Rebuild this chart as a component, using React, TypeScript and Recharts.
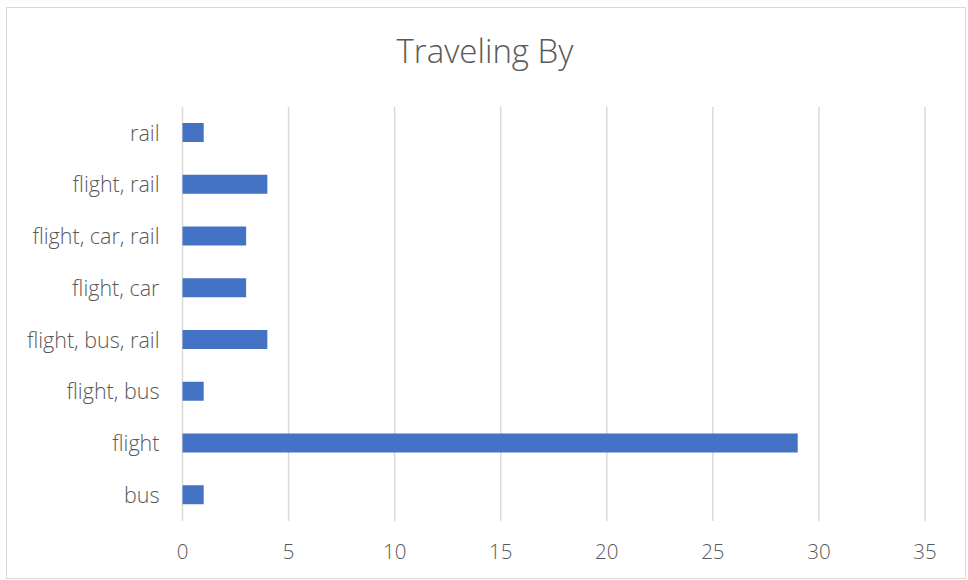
import React from 'react';
import { BarChart, Bar, XAxis, YAxis, CartesianGrid } from 'recharts';

// categories bottom-to-top, as in the spreadsheet
const categories = ['bus', 'flight', 'flight, bus', 'flight, bus, rail', 'flight, car', 'flight, car, rail', 'flight, rail', 'rail'];
const counts = [1, 29, 1, 4, 3, 3, 4, 1];
const xTicks = [0, 5, 10, 15, 20, 25, 30, 35];

const data = categories.map((name, i) => ({ name, value: counts[i] }));

const FONT = '"Open Sans", "Segoe UI", sans-serif';
const TEXT = '#595959';

export default function App() {
  return (
    <div style={{ position: 'absolute', left: 0, top: 0, width: 968, height: 580, background: '#fff', fontFamily: FONT }}>
      {/* chart border */}
      <div style={{ position: 'absolute', left: 6, top: 7, width: 958, height: 570, border: '1px solid #d9d9d9' }} />
      <div style={{ position: 'absolute', left: 0, top: 29, width: 970, textAlign: 'center', fontSize: 33, fontWeight: 300, color: TEXT, lineHeight: '44px' }}>
        Traveling By
      </div>
      <div style={{ position: 'absolute', left: 0, top: 0 }}>
        <BarChart width={968} height={580} data={data} layout="vertical" margin={{ top: 107, right: 43, bottom: 19, left: 0 }} barCategoryGap={0}>
          <CartesianGrid horizontal={false} stroke="#d9d9d9" strokeWidth={1.5} />
          <XAxis
            type="number"
            domain={[0, 35]}
            ticks={xTicks}
            axisLine={false}
            tickLine={false}
            tickSize={0}
            tickMargin={23}
            height={40}
            tick={{ fill: TEXT, fontSize: 20.5, fontWeight: 300, fontFamily: FONT }}
          />
          <YAxis
            type="category"
            dataKey="name"
            reversed
            width={182.5}
            axisLine={false}
            tickLine={false}
            tickSize={0}
            tickMargin={23}
            tick={{ fill: TEXT, fontSize: 21.5, fontWeight: 300, fontFamily: FONT }}
          />
          <Bar dataKey="value" fill="#4472C4" barSize={19} isAnimationActive={false} />
        </BarChart>
      </div>
    </div>
  );
}
